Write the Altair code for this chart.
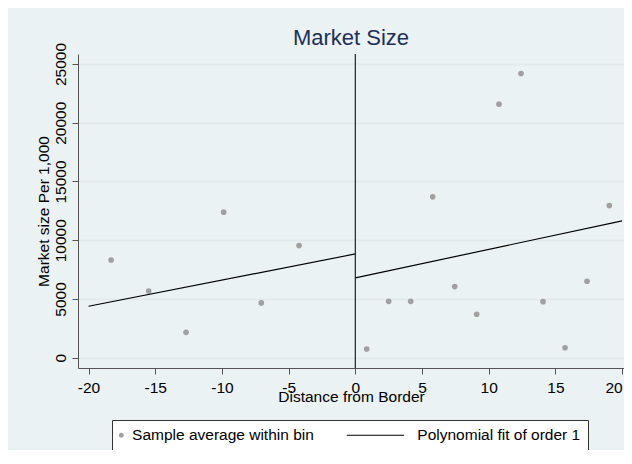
import altair as alt
import pandas as pd

# ---- data ----
bin_x = [-18.31, -15.49, -12.69, -9.87, -7.05, -4.22,
         0.85, 2.50, 4.15, 5.80, 7.45, 9.10, 10.77, 12.42, 14.07, 15.72, 17.37, 19.04]
bin_y = [8320, 5680, 2160, 12390, 4660, 9540,
         740, 4800, 4800, 13690, 6050, 3700, 21580, 24190, 4770, 850, 6510, 12950]

fit_side = ["left", "left", "right", "right"]
fit_x = [-20, 0, 0, 20]
fit_y = [4380, 8830, 6790, 11650]

border_x = [0]
legend_labels = ["Sample average within bin", "Polynomial fit of order 1"]
x_ticks = [-20, -15, -10, -5, 0, 5, 10, 15, 20]
y_ticks = [0, 5000, 10000, 15000, 20000, 25000]

FONT = "Liberation Sans"
BG = "#eaf2f3"

bins = pd.DataFrame({"x": bin_x, "y": bin_y})
fits = pd.DataFrame({"side": fit_side, "x": fit_x, "y": fit_y})
border = pd.DataFrame({"x": border_x})
leg = pd.DataFrame({"series": legend_labels})

x_scale = alt.Scale(domain=[-20.79, 20.14], nice=False, zero=False)
y_scale = alt.Scale(domain=[-877, 25851], nice=False, zero=False)

x_axis = alt.Axis(
    values=x_ticks, grid=False, labelExpr="datum.value + ''",
    labelFont=FONT, labelFontSize=15.5, labelColor="black", labelPadding=6,
    labelFlush=5, labelOverlap=False,
    tickSize=6, tickColor="#555", domainColor="#555",
    title="Distance from Border", titleFont=FONT, titleFontSize=15.5,
    titleFontWeight="normal", titleColor="black", titleY=33,
    titleBaseline="alphabetic",
)
y_axis = alt.Axis(
    values=y_ticks, grid=True, gridColor="#e2eaee", gridWidth=2,
    labelExpr="datum.value + ''",
    labelFont=FONT, labelFontSize=15.5, labelColor="black",
    labelAngle=270, labelAlign="center", labelBaseline="alphabetic", labelPadding=6.7,
    labelFlush=False, labelOverlap=False,
    tickSize=6, tickColor="#555", domainColor="#555",
    title="Market size Per 1,000", titleFont=FONT, titleFontSize=15.5,
    titleFontWeight="normal", titleColor="black", titleAngle=270,
    titleAlign="center", titleBaseline="alphabetic", titleX=-30, titleY=157,
)

points = alt.Chart(bins).mark_circle(size=32, color="#a0a0a0", opacity=1).encode(
    x=alt.X("x:Q", scale=x_scale, axis=x_axis),
    y=alt.Y("y:Q", scale=y_scale, axis=y_axis),
)

lines = alt.Chart(fits).mark_line(color="black", strokeWidth=1.2).encode(
    x="x:Q", y="y:Q", detail="side:N"
)

rule = alt.Chart(border).mark_rule(color="#222", strokeWidth=1.2).encode(x="x:Q")

line_symbol = "M-1,0L0.7366,0"  # horizontal stroke leaving a gap before its label

legend_layer = alt.Chart(leg).transform_filter("false").mark_point(
    filled=True, opacity=1, strokeWidth=1.2
).encode(
    color=alt.Color(
        "series:N",
        scale=alt.Scale(domain=legend_labels, range=["#a0a0a0", "black"]),
        legend=alt.Legend(
            orient="none", legendX=34, legendY=366, direction="horizontal",
            title=None, fillColor="white", strokeColor="#333", padding=7,
            labelFont=FONT, labelFontSize=15.5, labelColor="black", labelLimit=400,
            labelExpr=f"datum.value == '{legend_labels[1]}' ? datum.label + '   ' : datum.label",
            columnPadding=32.8, labelOffset=3, symbolOffset=-5.45,
            symbolStrokeWidth=1.2, clipHeight=16,
        ),
    ),
    stroke=alt.Stroke("series:N", scale=alt.Scale(domain=legend_labels, range=["#a0a0a0", "black"])),
    shape=alt.Shape("series:N", scale=alt.Scale(domain=legend_labels, range=["circle", line_symbol])),
    size=alt.Size("series:N", scale=alt.Scale(domain=legend_labels, range=[14, 5100])),
)

chart = alt.layer(points, lines, rule, legend_layer).properties(
    width=546, height=314,
    title=alt.TitleParams("Market Size", font=FONT, fontSize=22, fontWeight="normal",
                          color="#1c2f5b", anchor="middle", frame="group", offset=8, dy=16),
    autosize=alt.AutoSizeParams(type="none"),
    padding={"left": 70, "top": 46, "right": 0, "bottom": 82},
    background=BG,
).configure_view(fill="white", stroke="transparent")

chart.save("out.html", embed_options={"renderer": "svg", "actions": False})
